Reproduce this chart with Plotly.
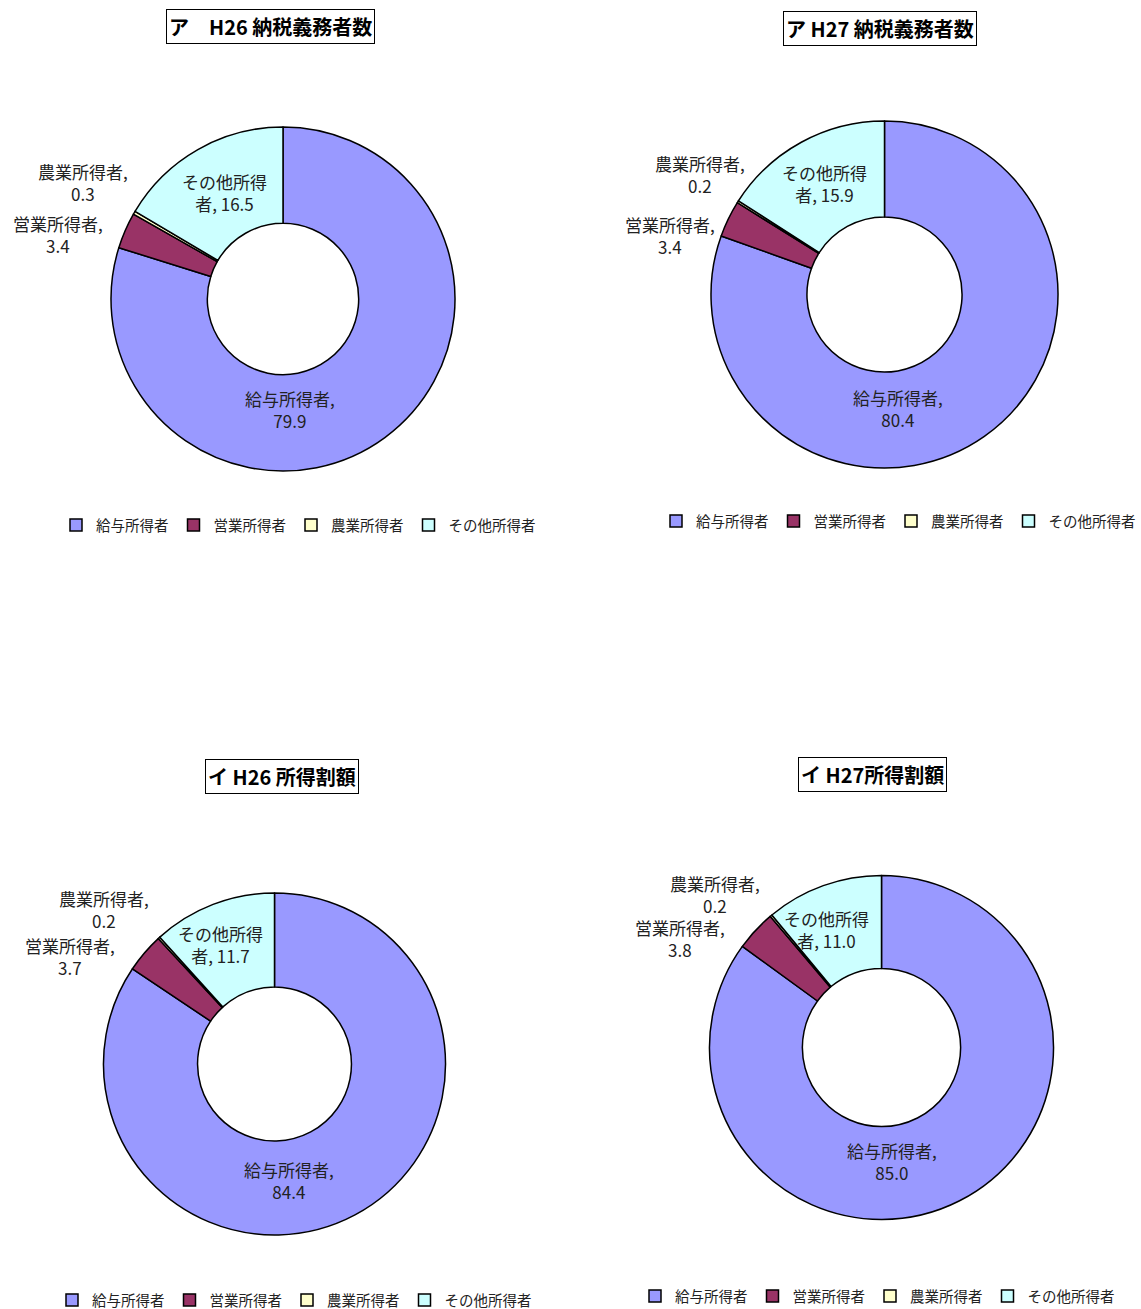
import plotly.graph_objects as go

W, H = 1141, 1309

categories = ["給与所得者", "営業所得者", "農業所得者", "その他所得者"]
label_templates = ["給与所得者,<br>{v}", "営業所得者,<br>{v}", "農業所得者,<br>{v}", "その他所得<br>者, {v}"]
colors = ["#9999FF", "#993366", "#FFFFCC", "#CCFFFF"]

titles = ["ア　H26 納税義務者数", "ア H27 納税義務者数", "イ H26 所得割額", "イ H27所得割額"]

h26_taxpayers = [79.9, 3.4, 0.3, 16.5]
h27_taxpayers = [80.4, 3.4, 0.2, 15.9]
h26_income_levy = [84.4, 3.7, 0.2, 11.7]
h27_income_levy = [85.0, 3.8, 0.2, 11.0]
series = [h26_taxpayers, h27_taxpayers, h26_income_levy, h27_income_levy]

# layout in page pixels: pie centre, radius, hole, title centre, legend origin (left, text-centre y), label centres
charts = [
    dict(c=(283, 299), r=172, hole=0.44, title=(270, 27),
         legend=(56, 525),
         labels=[(290, 409), (58, 235), (83, 183), (224, 193)]),
    dict(c=(884.5, 294.5), r=173.5, hole=0.447, title=(880, 29),
         legend=(656, 521),
         labels=[(898, 408), (670, 236), (700, 174), (824, 184)]),
    dict(c=(274.5, 1064), r=171, hole=0.45, title=(282, 776),
         legend=(52, 1300),
         labels=[(289, 1180), (70, 957), (104, 909), (220, 944)]),
    dict(c=(881.5, 1047.5), r=172, hole=0.46, title=(872, 774),
         legend=(635, 1296),
         labels=[(892, 1161), (680, 938), (715, 894), (826, 929)]),
]

FONT = "Noto Sans CJK JP, Noto Sans, sans-serif"


def px(x):
    return x / W


def py(y):
    return 1 - y / H


fig = go.Figure()
annotations = []
layout_legends = {}

for i, (vals, ch) in enumerate(zip(series, charts)):
    cx, cy = ch["c"]
    r = ch["r"]
    leg = "legend" if i == 0 else f"legend{i + 1}"
    # zero-width suffix keeps each pie's legend entries separate
    trace_labels = [c + "\u200b" * i for c in categories]
    fig.add_trace(go.Pie(
        labels=trace_labels,
        values=vals,
        hole=ch["hole"],
        sort=False,
        direction="clockwise",
        rotation=0,
        textinfo="none",
        marker=dict(colors=colors, line=dict(color="black", width=1.5)),
        domain=dict(x=[px(cx - r), px(cx + r)], y=[py(cy + r), py(cy - r)]),
        legend=leg,
        showlegend=True,
        hoverinfo="label+value",
    ))
    lx, ly = ch["legend"]
    layout_legends[leg] = dict(
        orientation="h", x=px(lx), y=py(ly), xanchor="left", yanchor="middle",
        font=dict(family=FONT, size=14.5, color="#222"),
        itemwidth=30,
        bgcolor="rgba(0,0,0,0)", traceorder="normal",
    )
    tx, ty = ch["title"]
    annotations.append(dict(
        x=px(tx), y=py(ty), xref="paper", yref="paper", showarrow=False,
        xanchor="center", yanchor="middle",
        text=titles[i], font=dict(family=FONT, size=20, color="black", weight="bold"),
        bordercolor="black", borderwidth=1, borderpad=2, bgcolor="white",
    ))
    for j, (lxp, lyp) in enumerate(ch["labels"]):
        annotations.append(dict(
            x=px(lxp), y=py(lyp), xref="paper", yref="paper", showarrow=False,
            xanchor="center", yanchor="middle",
            text=label_templates[j].format(v=f"{vals[j]:.1f}"),
            align="center",
            font=dict(family=FONT, size=17, color="#222"),
        ))

fig.update_layout(
    width=W, height=H,
    margin=dict(l=0, r=0, t=0, b=0, autoexpand=False),
    paper_bgcolor="white", plot_bgcolor="white",
    annotations=annotations,
    **layout_legends,
)

fig.write_html(
    "out.html",
    config={"displayModeBar": False},
    post_script="document.body.style.margin='0';document.body.style.overflow='hidden';",
)
